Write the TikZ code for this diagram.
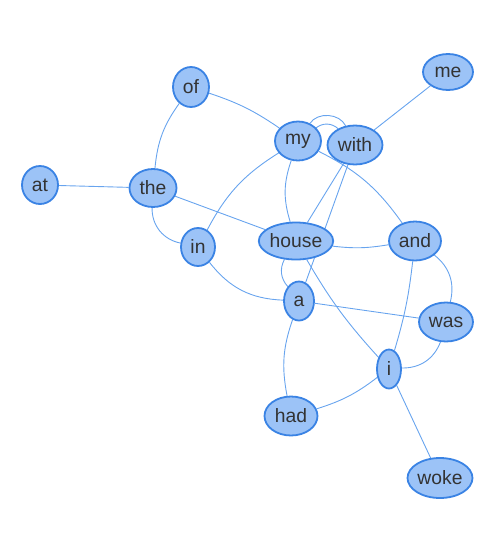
\documentclass[tikz,border=0pt]{standalone}
\usepackage{fontspec}
\setmainfont{Liberation Sans}
\usetikzlibrary{shapes.geometric}
\pgfdeclarelayer{bg}
\pgfsetlayers{bg,main}
\definecolor{nodefill}{HTML}{9CC3F7}
\definecolor{nodeborder}{HTML}{3A83E4}
\definecolor{edgecol}{HTML}{68A4EE}
\definecolor{txt}{HTML}{333333}
\tikzset{
  word/.style={ellipse, draw=nodeborder, fill=nodefill, line width=1.8pt, inner sep=0pt,
    text=txt, font=\fontsize{19.3}{21}\selectfont},
  link/.style={draw=edgecol, line width=0.9pt}
}
\newcommand{\wnode}[5]{\node[word, minimum width=#4pt, minimum height=#5pt] (#1) at (#2,#3) {#1};}
\begin{document}
\begin{tikzpicture}[x=1pt,y=-1pt]
\useasboundingbox (0,0) rectangle (500,550);
% nodes
\wnode{of}{191}{87}{36}{40}
\wnode{my}{298}{141}{46}{39}
\wnode{with}{355}{145}{55}{39}
\wnode{me}{448}{72}{50}{36}
\wnode{at}{40}{185}{36}{38}
\wnode{the}{153}{188}{47}{38}
\wnode{in}{198}{247}{34}{38}
\wnode{house}{296}{241}{73}{37}
\wnode{and}{415}{241}{52}{39}
\wnode{a}{299}{301}{30}{39}
\wnode{was}{446}{322}{54}{39}
\wnode{i}{389}{369}{24}{39}
\wnode{had}{291}{416}{53}{39}
\wnode{woke}{440}{478}{65}{40}
% edges
\begin{pgfonlayer}{bg}
\draw[link] (of) to[bend right=15] (the);
\draw[link] (of) to[bend left=8] (my);
\draw[link] (my) to[bend left=60] (with);
\draw[link] (my) to[bend left=40] (with);
\draw[link] (me) -- (with);
\draw[link] (at) -- (the);
\draw[link] (the) -- (house);
\draw[link] (the) to[bend right=40] (in);
\draw[link] (in) to[bend left=15] (my);
\draw[link] (in) to[bend right=25] (a);
\draw[link] (my) to[bend right=18] (house);
\draw[link] (my) to[bend left=14] (and);
\draw[link] (with) -- (house);
\draw[link] (with) -- (a);
\draw[link] (house) to[bend right=8] (and);
\draw[link] (house) to[bend right=35] (a);
\draw[link] (house) to[bend right=6] (i);
\draw[link] (a) -- (was);
\draw[link] (a) to[bend right=15] (had);
\draw[link] (and) to[bend left=33] (was);
\draw[link] (and) to[bend left=5] (i);
\draw[link] (was) to[bend left=35] (i);
\draw[link] (had) to[bend right=10] (i);
\draw[link] (i) -- (woke);
\end{pgfonlayer}
\end{tikzpicture}
\end{document}
